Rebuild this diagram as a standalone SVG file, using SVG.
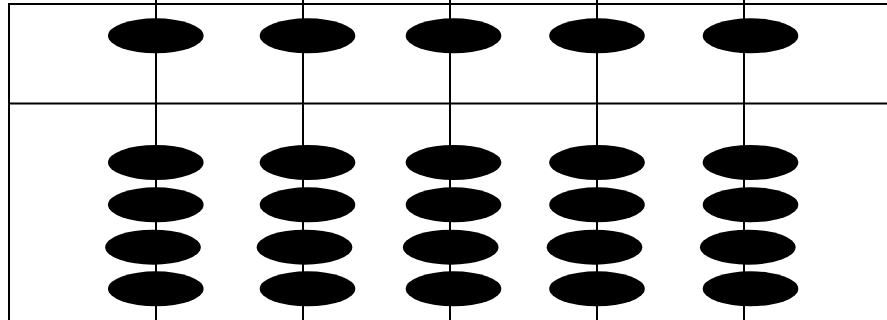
<svg xmlns="http://www.w3.org/2000/svg" width="887" height="320" viewBox="0 0 887 320">
<style>
.ln{stroke:#000;stroke-width:2;fill:none}
.bead{fill:#000}
</style>
<rect width="887" height="320" fill="#fff"/>
<g id="frame">
<line class="ln" x1="8" y1="4" x2="887" y2="4"/>
<line class="ln" x1="8" y1="103.5" x2="887" y2="103.5"/>
<line class="ln" x1="9" y1="3" x2="9" y2="320"/>
</g>
<g id="connectors">
<line class="ln" x1="156" y1="0" x2="156" y2="320"/>
<line class="ln" x1="303" y1="0" x2="303" y2="320"/>
<line class="ln" x1="450" y1="0" x2="450" y2="320"/>
<line class="ln" x1="597" y1="0" x2="597" y2="320"/>
<line class="ln" x1="744" y1="0" x2="744" y2="320"/>
</g>
<g id="col1">
<ellipse class="bead" cx="155.8" cy="35.8" rx="47.8" ry="17.5"/>
<ellipse class="bead" cx="155.8" cy="162.5" rx="47.8" ry="17.5"/>
<ellipse class="bead" cx="155.8" cy="204.8" rx="47.8" ry="17.5"/>
<ellipse class="bead" cx="153" cy="247.2" rx="47.8" ry="17.5"/>
<ellipse class="bead" cx="155.8" cy="288.8" rx="47.8" ry="17.5"/>
</g>
<g id="col2">
<ellipse class="bead" cx="307.5" cy="35.8" rx="47.8" ry="17.5"/>
<ellipse class="bead" cx="307.5" cy="162.5" rx="47.8" ry="17.5"/>
<ellipse class="bead" cx="307.5" cy="204.8" rx="47.8" ry="17.5"/>
<ellipse class="bead" cx="304.5" cy="247.2" rx="47.8" ry="17.5"/>
<ellipse class="bead" cx="307.5" cy="288.8" rx="47.8" ry="17.5"/>
</g>
<g id="col3">
<ellipse class="bead" cx="453.5" cy="35.8" rx="47.8" ry="17.5"/>
<ellipse class="bead" cx="453.5" cy="162.5" rx="47.8" ry="17.5"/>
<ellipse class="bead" cx="453.5" cy="204.8" rx="47.8" ry="17.5"/>
<ellipse class="bead" cx="450.7" cy="247.2" rx="47.8" ry="17.5"/>
<ellipse class="bead" cx="453.5" cy="288.8" rx="47.8" ry="17.5"/>
</g>
<g id="col4">
<ellipse class="bead" cx="597" cy="35.8" rx="47.8" ry="17.5"/>
<ellipse class="bead" cx="597" cy="162.5" rx="47.8" ry="17.5"/>
<ellipse class="bead" cx="597" cy="204.8" rx="47.8" ry="17.5"/>
<ellipse class="bead" cx="594.5" cy="247.2" rx="47.8" ry="17.5"/>
<ellipse class="bead" cx="597" cy="288.8" rx="47.8" ry="17.5"/>
</g>
<g id="col5">
<ellipse class="bead" cx="750.5" cy="35.8" rx="47.8" ry="17.5"/>
<ellipse class="bead" cx="750.5" cy="162.5" rx="47.8" ry="17.5"/>
<ellipse class="bead" cx="750.5" cy="204.8" rx="47.8" ry="17.5"/>
<ellipse class="bead" cx="747.8" cy="247.2" rx="47.8" ry="17.5"/>
<ellipse class="bead" cx="750.5" cy="288.8" rx="47.8" ry="17.5"/>
</g>
</svg>
